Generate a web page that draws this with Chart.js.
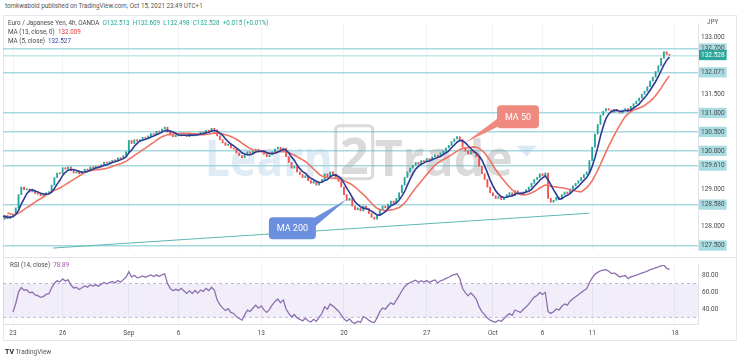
<!DOCTYPE html>
<html>
<head>
<meta charset="utf-8">
<script src="https://cdn.jsdelivr.net/npm/chart.js@4.4.0/dist/chart.umd.min.js"></script>
<style>
body { margin: 0; background: #fff; width: 740px; height: 361px; overflow: hidden; position: relative; font-family: Roboto, "Open Sans", sans-serif; }
.t { position: absolute; white-space: nowrap; font-size: 6.3px; color: #4a4a4a; line-height: 1; }
#frame { position: absolute; left: 3px; top: 15px; width: 734px; height: 326px; border: 1px solid #e3e6ec; box-sizing: border-box; }
canvas { position: absolute; }
</style>
</head>
<body>
<div id="frame"></div>
<canvas id="price" width="734" height="240" style="left:3px;top:17px"></canvas>
<canvas id="rsi" width="734" height="84" style="left:3px;top:257px"></canvas>

<div class="t" style="left:5px;top:3px;color:#555">tomkwabold published on TradingView.com, Oct 15, 2021 23:49 UTC+1</div>
<div class="t" style="left:8px;top:20px">Euro / Japanese Yen, 4h, OANDA&nbsp; <span style="color:#26a69a">O132.513&nbsp; H132.609&nbsp; L132.498&nbsp; C132.528&nbsp; +0.015 (+0.01%)</span></div>
<div class="t" style="left:8px;top:29px">MA (13, close, 0)&nbsp; <span style="color:#e53935">132.009</span></div>
<div class="t" style="left:8px;top:38px">MA (5, close)&nbsp; <span style="color:#2b3fa0">132.527</span></div>
<div class="t" style="left:707px;top:19px;color:#555">JPY</div>
<div class="t" style="left:10px;top:262px">RSI (14, close)&nbsp; <span style="color:#a34fb0">78.89</span></div>
<div class="t" style="left:5px;top:349px;font-size:6.5px;color:#555"><b style="color:#222;font-size:7px">TV</b> TradingView</div>

<script>
// x positions are bar numbers (4h bars, 30 per trading week, 0 = Mon Aug 23)
const tickBars = [0, 18, 42, 60, 90, 120, 150, 174, 192, 210, 240];
const tickLabels = ['23', '26', 'Sep', '6', '13', '20', '27', 'Oct', '6', '11', '18'];

const priceLevels = [127.5, 128.0, 128.58, 129.0, 129.61, 130.0, 130.5, 131.0, 131.5, 132.071, 133.0, 132.7, 132.528];
const levelLines = [127.5, 128.58, 129.61, 130.0, 130.5, 131.0, 132.071, 132.7];
const lastPrice = 132.528;
const rsiTicks = [40, 60, 80];

// bars before Aug 23 (warm-up for the averages)
const prevCloses = [128.60, 128.52, 128.45, 128.50, 128.38, 128.42, 128.30, 128.35, 128.25, 128.28, 128.20, 128.30, 128.22, 128.28];

const closesWk1 = [128.32, 128.50, 128.85, 129.05, 128.98, 129.00, 128.92, 128.95, 128.88, 128.86, 128.82, 128.84, 128.90, 128.92, 129.10,
                   129.30, 129.42, 129.40, 129.56, 129.52, 129.58, 129.48, 129.42, 129.44, 129.40, 129.46, 129.52, 129.50, 129.58, 129.56];
const closesWk2 = [129.60, 129.58, 129.64, 129.70, 129.68, 129.72, 129.76, 129.74, 129.82, 129.80, 129.88, 129.98, 130.28, 130.20, 130.30,
                   130.26, 130.30, 130.36, 130.34, 130.40, 130.46, 130.44, 130.52, 130.50, 130.58, 130.63, 130.50, 130.42, 130.38, 130.42];
const closesWk3 = [130.40, 130.46, 130.42, 130.38, 130.44, 130.40, 130.47, 130.43, 130.50, 130.48, 130.55, 130.52, 130.60, 130.56, 130.40,
                   130.30, 130.22, 130.15, 130.18, 130.08, 130.05, 129.95, 129.88, 129.82, 129.90, 129.98, 129.94, 130.00, 130.05, 129.98];
const closesWk4 = [130.02, 129.92, 129.85, 129.90, 129.98, 130.05, 130.10, 130.02, 130.08, 129.85, 129.70, 129.55, 129.60, 129.45, 129.38,
                   129.30, 129.35, 129.22, 129.15, 129.20, 129.10, 129.18, 129.25, 129.40, 129.32, 129.45, 129.38, 129.30, 129.20, 129.05];
const closesWk5 = [128.85, 128.70, 128.75, 128.55, 128.45, 128.50, 128.42, 128.55, 128.48, 128.35, 128.25, 128.20, 128.30, 128.45, 128.55,
                   128.50, 128.60, 128.68, 128.62, 128.75, 128.90, 129.10, 129.30, 129.45, 129.55, 129.62, 129.70, 129.65, 129.75, 129.72];
const closesWk6 = [129.80, 129.76, 129.85, 129.90, 129.84, 129.95, 130.00, 130.08, 130.15, 130.25, 130.32, 130.38, 130.30, 130.10, 130.00,
                   129.92, 130.02, 129.95, 129.85, 129.60, 129.40, 129.25, 129.05, 128.90, 128.82, 128.75, 128.80, 128.72, 128.78, 128.85];
const closesWk7 = [128.90, 128.82, 128.95, 128.90, 128.85, 128.92, 128.98, 129.05, 129.15, 129.25, 129.30, 129.40, 129.35, 129.42, 128.75,
                   128.65, 128.70, 128.78, 128.74, 128.85, 128.92, 128.88, 129.00, 129.08, 129.15, 129.22, 129.30, 129.38, 129.45, 129.75];
const closesWk8 = [130.10, 130.45, 130.70, 130.95, 131.05, 131.12, 131.08, 131.02, 131.10, 131.05, 131.00, 131.08, 131.12, 131.05, 131.18,
                   131.25, 131.32, 131.40, 131.50, 131.58, 131.70, 131.85, 131.95, 132.10, 132.25, 132.45, 132.62, 132.55, 132.528];

const trendLine = [[14.5, 127.44], [209, 128.36]];

// callout anchors in data units: [bar, price]
const calloutMA50 = { text: 'MA 50', color: '#f08a80', box: [183.1, 130.905], tip: [163.9, 130.22] };
const calloutMA200 = { text: 'MA 200', color: '#6d8fe0', box: [101.3, 127.96], tip: [121.1, 128.73] };

// ---------- build series ----------
const closes = closesWk1.concat(closesWk2, closesWk3, closesWk4, closesWk5, closesWk6, closesWk7, closesWk8);
const allCloses = prevCloses.concat(closes);
const offset = prevCloses.length;

const candles = [];
for (let k = 1; k < allCloses.length; k++) {
    candles.push({ x: k - offset, y: [allCloses[k - 1], allCloses[k]] });
}

function sma(n) {
    const out = [];
    for (let k = n - 1; k < allCloses.length; k++) {
        let s = 0;
        for (let j = k - n + 1; j <= k; j++) s += allCloses[j];
        out.push({ x: k - offset, y: s / n });
    }
    return out;
}

function rsi(n) {
    const out = [];
    let g = 0, l = 0;
    for (let k = 1; k <= n; k++) {
        const d = allCloses[k] - allCloses[k - 1];
        if (d > 0) g += d; else l -= d;
    }
    g /= n; l /= n;
    out.push({ x: n - offset, y: 100 - 100 / (1 + g / l) });
    for (let k = n + 1; k < allCloses.length; k++) {
        const d = allCloses[k] - allCloses[k - 1];
        g = (g * (n - 1) + Math.max(d, 0)) / n;
        l = (l * (n - 1) + Math.max(-d, 0)) / n;
        out.push({ x: k - offset, y: l === 0 ? 100 : 100 - 100 / (1 + g / l) });
    }
    return out;
}

const X_MIN = -3.63, X_MAX = 248.37;
const AXIS_W = 39;
const tickFont = { family: 'Roboto', size: 6.5 };
const gridFaint = '#f1f3f7';

function setXTicks(scale) {
    scale.ticks = tickBars.map(v => ({ value: v }));
}
function xLabel(v) {
    const i = tickBars.indexOf(v);
    return i >= 0 ? tickLabels[i] : '';
}

// ---------- price pane ----------
const priceDeco = {
    id: 'priceDeco',
    beforeDatasetsDraw(chart) {
        const { ctx, chartArea: a, scales } = chart;
        ctx.save();
        ctx.beginPath();
        ctx.rect(a.left, a.top, a.width, a.height);
        ctx.clip();
        // watermark
        const bx = scales.x.getPixelForValue(117);
        const by = scales.y.getPixelForValue(129.35);
        ctx.font = 'bold 50px "Open Sans", sans-serif';
        ctx.textBaseline = 'alphabetic';
        ctx.fillStyle = 'rgba(170,205,230,0.38)';
        ctx.textAlign = 'right';
        ctx.fillText('Learn', bx - 3, by, 128);
        ctx.strokeStyle = 'rgba(150,150,150,0.35)';
        ctx.lineWidth = 3;
        ctx.beginPath();
        ctx.roundRect(bx, by - 50, 37, 53, 4);
        ctx.stroke();
        ctx.fillStyle = 'rgba(150,150,150,0.35)';
        ctx.textAlign = 'center';
        ctx.fillText('2', bx + 18.5, by - 2, 30);
        ctx.textAlign = 'left';
        ctx.fillText('Trade', bx + 39, by, 138);
        ctx.fillStyle = 'rgba(170,205,230,0.45)';
        ctx.beginPath();
        ctx.moveTo(bx + 181, by - 30);
        ctx.lineTo(bx + 201, by - 30);
        ctx.lineTo(bx + 191, by - 19);
        ctx.closePath();
        ctx.fill();
        ctx.restore();
    },
    afterDatasetsDraw(chart) {
        const { ctx, scales } = chart;
        [[calloutMA50, 42, 23], [calloutMA200, 47, 22]].forEach(([c, w, h]) => {
            const cx = scales.x.getPixelForValue(c.box[0]);
            const cy = scales.y.getPixelForValue(c.box[1]);
            const tx = scales.x.getPixelForValue(c.tip[0]);
            const ty = scales.y.getPixelForValue(c.tip[1]);
            ctx.save();
            ctx.fillStyle = c.color;
            // pointer
            const sx = tx < cx ? cx - w / 2 + 8 : cx + w / 2 - 8;
            ctx.beginPath();
            ctx.moveTo(sx - 5, cy + (ty > cy ? 0 : -4));
            ctx.lineTo(sx + 5, cy + (ty > cy ? 4 : 0));
            ctx.lineTo(tx, ty);
            ctx.closePath();
            ctx.fill();
            ctx.beginPath();
            ctx.roundRect(cx - w / 2, cy - h / 2, w, h, 4);
            ctx.fill();
            ctx.fillStyle = '#fff';
            ctx.font = '9px Roboto, sans-serif';
            ctx.textAlign = 'center';
            ctx.textBaseline = 'middle';
            ctx.fillText(c.text, cx, cy + 0.5);
            ctx.restore();
        });
    }
};

new Chart(document.getElementById('price'), {
    type: 'bar',
    data: {
        datasets: [
            {
                type: 'line', data: trendLine.map(p => ({ x: p[0], y: p[1] })),
                borderColor: '#5cb8b0', borderWidth: 1, pointRadius: 0, order: 2
            },
            {
                type: 'line', data: sma(13), borderColor: '#f07466', borderWidth: 1.6,
                pointRadius: 0, tension: 0, order: 1
            },
            {
                type: 'line', data: sma(5), borderColor: '#2d3b94', borderWidth: 1.6,
                pointRadius: 0, tension: 0, order: 0
            },
            {
                data: candles,
                barThickness: 1.2,
                minBarLength: 1,
                backgroundColor: c => {
                    const r = c.raw;
                    return r && r.y[1] >= r.y[0] ? '#26a69a' : '#ef5350';
                },
                order: 3
            }
        ]
    },
    options: {
        responsive: false,
        animation: false,
        events: [],
        layout: { padding: 0 },
        plugins: { legend: { display: false }, tooltip: { enabled: false } },
        scales: {
            x: {
                type: 'linear', min: X_MIN, max: X_MAX, offset: false,
                afterBuildTicks: setXTicks,
                afterFit: s => { s.height = 0; },
                ticks: { display: false },
                grid: { color: gridFaint, drawTicks: false, offset: false },
                border: { display: false }
            },
            y: {
                position: 'right', min: 127.386, max: 133.356,
                afterBuildTicks: s => { s.ticks = priceLevels.map(v => ({ value: v })); },
                afterFit: s => { s.width = AXIS_W; },
                ticks: {
                    font: tickFont, padding: 3, crossAlign: 'near',
                    callback: v => v.toFixed(3),
                    showLabelBackdrop: true,
                    backdropPadding: { left: 2, right: 2, top: 1.5, bottom: 1 },
                    backdropColor: c => {
                        const v = c.tick.value;
                        if (v === lastPrice) return '#2aa69a';
                        return levelLines.includes(v) ? '#a8dce3' : 'rgba(255,255,255,0)';
                    },
                    color: c => c.tick.value === lastPrice ? '#ffffff' : '#4a4a4a'
                },
                grid: {
                    drawTicks: false,
                    lineWidth: 1.5,
                    color: c => {
                        const v = c.tick.value;
                        if (v === lastPrice) return '#c4e7e4';
                        return levelLines.includes(v) ? '#a6d9df' : 'rgba(0,0,0,0)';
                    }
                },
                border: { color: '#e0e3eb' }
            }
        }
    },
    plugins: [priceDeco]
});

// ---------- RSI pane ----------
const rsiBand = {
    id: 'rsiBand',
    beforeDatasetsDraw(chart) {
        const { ctx, chartArea: a, scales } = chart;
        const y70 = scales.y.getPixelForValue(70);
        const y30 = scales.y.getPixelForValue(30);
        ctx.save();
        ctx.fillStyle = 'rgba(126,87,194,0.10)';
        ctx.fillRect(a.left, y70, a.width, y30 - y70);
        ctx.strokeStyle = '#c3b6dd';
        ctx.setLineDash([3, 3]);
        ctx.lineWidth = 1;
        [y70, y30].forEach(y => {
            ctx.beginPath();
            ctx.moveTo(a.left, y);
            ctx.lineTo(a.right, y);
            ctx.stroke();
        });
        ctx.restore();
        // pane separator
        ctx.save();
        ctx.strokeStyle = '#e0e3eb';
        ctx.beginPath();
        ctx.moveTo(0, 0.5);
        ctx.lineTo(chart.width, 0.5);
        ctx.stroke();
        ctx.restore();
    }
};

new Chart(document.getElementById('rsi'), {
    type: 'line',
    data: {
        datasets: [{
            data: rsi(14), borderColor: '#8d6fb0', borderWidth: 1.3, pointRadius: 0, tension: 0
        }]
    },
    options: {
        responsive: false,
        animation: false,
        events: [],
        layout: { padding: 0 },
        plugins: { legend: { display: false }, tooltip: { enabled: false } },
        scales: {
            x: {
                type: 'linear', min: X_MIN, max: X_MAX,
                afterBuildTicks: setXTicks,
                afterFit: s => { s.height = 17; },
                ticks: { font: tickFont, color: '#4a4a4a', padding: 5, maxRotation: 0, autoSkip: false, callback: xLabel },
                grid: { color: gridFaint, drawTicks: false },
                border: { color: '#e0e3eb' }
            },
            y: {
                position: 'right', min: 22.19, max: 91.98,
                afterBuildTicks: s => { s.ticks = rsiTicks.map(v => ({ value: v })); },
                afterFit: s => { s.width = AXIS_W; },
                ticks: { font: tickFont, color: '#4a4a4a', padding: 4, crossAlign: 'near', callback: v => v.toFixed(2) },
                grid: { display: false, drawTicks: false },
                border: { color: '#e0e3eb' }
            }
        }
    },
    plugins: [rsiBand]
});
</script>
</body>
</html>
